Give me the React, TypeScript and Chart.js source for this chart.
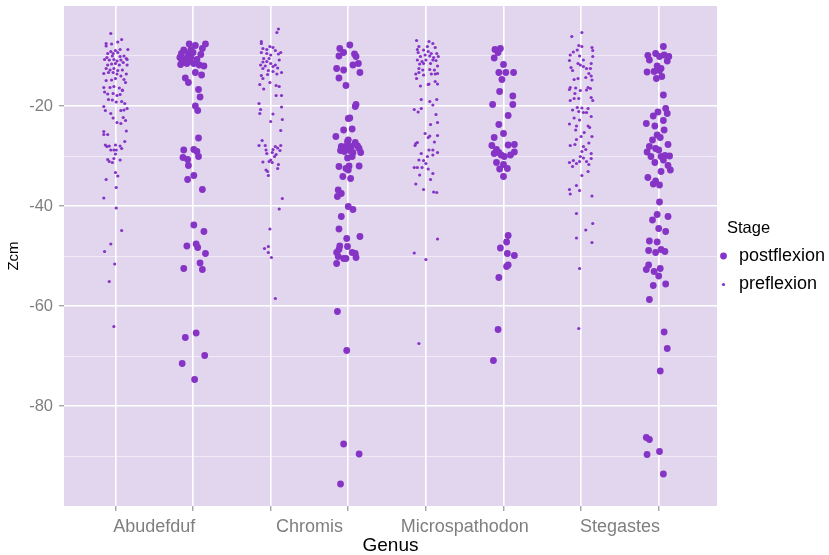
import React, { useEffect, useRef } from 'react';
import { Chart, registerables } from 'chart.js';

Chart.register(...registerables);

// Categories
const genera = ['Abudefduf', 'Chromis', 'Microspathodon', 'Stegastes'];
const stages = ['postflexion', 'preflexion'];
const yTickLabels = [-20, -40, -60, -80];

// Each point: [horizontal jitter (category units), Zcm]
const abudefdufPre: [number, number][] = [
  [-0.06, -5.5], [0.03, -7.2], [0.08, -6.7], [-0.12, -7.5], [-0.05, -7.6], [-0.12, -8.0], [0.16, -8.7], [0.06, -8.7],
  [0.0, -8.9], [-0.06, -9.1], [-0.1, -9.5], [-0.03, -9.5], [0.03, -9.3], [-0.11, -10.3], [-0.04, -10.0], [0.06, -10.1],
  [0.11, -10.0], [0.14, -10.5], [-0.14, -10.7], [-0.08, -10.8], [-0.02, -10.7], [0.02, -11.0], [0.07, -10.8], [0.1, -11.3],
  [0.15, -10.7], [-0.1, -11.8], [-0.05, -11.6], [0.0, -11.5], [0.05, -11.8], [0.15, -11.8], [-0.12, -12.5], [-0.07, -12.8],
  [-0.02, -12.5], [0.03, -12.9], [0.09, -12.8], [-0.15, -13.5], [-0.09, -13.3], [-0.03, -13.3], [0.02, -13.6], [0.07, -14.0],
  [0.14, -13.6], [-0.12, -14.9], [-0.05, -14.8], [0.0, -14.5], [0.11, -14.7], [0.13, -15.3], [-0.15, -16.3], [-0.07, -16.3],
  [-0.02, -16.1], [0.05, -16.4], [0.09, -16.8], [-0.14, -17.2], [-0.1, -17.6], [-0.03, -17.5], [0.02, -17.9], [0.06, -17.7],
  [0.09, -16.9], [-0.09, -18.7], [-0.04, -18.8], [0.01, -19.2], [0.08, -19.1], [0.12, -19.5], [-0.15, -20.1], [-0.13, -20.9],
  [-0.06, -21.5], [0.07, -20.9], [0.11, -20.8], [0.15, -20.5], [-0.03, -22.4], [0.1, -22.3], [0.02, -23.3], [0.07, -23.5],
  [0.13, -22.9], [0.14, -25.0], [-0.15, -25.1], [-0.15, -25.7], [-0.1, -25.7], [0.12, -27.1], [-0.13, -27.8], [-0.11, -28.1],
  [-0.08, -28.0], [0.0, -27.8], [0.06, -28.0], [0.08, -28.5], [-0.06, -28.8], [-0.02, -28.8], [0.01, -28.8], [0.0, -29.6],
  [-0.1, -30.7], [-0.08, -31.1], [-0.04, -31.3], [-0.02, -30.5], [0.06, -30.8], [0.0, -33.3], [0.03, -34.0], [-0.12, -34.7],
  [0.01, -36.3], [-0.15, -38.4], [0.01, -40.4], [0.08, -44.9], [-0.06, -47.6], [-0.14, -49.1], [-0.01, -51.6], [-0.08, -55.1],
  [-0.02, -64.1],
];

const abudefdufPost: [number, number][] = [
  [-0.05, -7.6], [0.03, -7.9], [0.16, -7.6], [0.12, -8.5], [-0.12, -8.8], [-0.03, -8.8], [-0.15, -9.5], [-0.06, -9.5],
  [0.0, -9.3], [0.1, -9.7], [-0.17, -10.3], [-0.09, -10.5], [-0.03, -10.3], [0.05, -10.7], [-0.14, -11.1], [-0.05, -11.1],
  [-0.16, -11.7], [-0.08, -11.5], [0.01, -11.5], [0.08, -11.8], [0.14, -12.0], [-0.1, -14.4], [-0.06, -15.3], [0.03, -13.3],
  [0.11, -13.8], [0.07, -16.7], [0.09, -18.2], [0.03, -20.0], [0.06, -20.9], [0.07, -26.4], [-0.12, -28.8], [0.01, -28.7],
  [0.05, -29.1], [-0.13, -30.3], [-0.07, -30.7], [0.07, -30.1], [-0.06, -31.9], [0.01, -33.9], [-0.07, -34.7], [0.12, -36.7],
  [0.01, -43.8], [0.14, -45.1], [-0.08, -48.0], [0.04, -47.6], [0.06, -48.3], [0.16, -49.5], [0.09, -51.4], [-0.12, -52.5],
  [0.12, -52.7], [0.04, -65.4], [-0.1, -66.3], [0.15, -69.9], [-0.14, -71.5], [0.02, -74.7],
];

const chromisPre: [number, number][] = [
  [0.1, -4.6], [0.08, -5.3], [-0.12, -7.1], [-0.12, -7.5], [-0.01, -8.1], [0.03, -8.3], [-0.1, -8.5], [-0.05, -8.7],
  [0.06, -8.9], [0.13, -9.3], [0.1, -9.6], [-0.12, -9.3], [-0.05, -9.5], [0.0, -9.8], [-0.09, -10.5], [-0.02, -10.5],
  [0.11, -10.8], [-0.1, -11.2], [-0.05, -11.1], [0.0, -11.5], [0.06, -11.8], [-0.13, -11.8], [-0.07, -12.0], [0.03, -12.1],
  [0.09, -12.4], [-0.1, -12.5], [-0.03, -12.9], [0.03, -13.1], [0.08, -13.6], [0.14, -13.3], [-0.12, -13.9], [-0.04, -13.7],
  [-0.1, -14.5], [-0.01, -15.3], [-0.14, -15.7], [0.07, -15.9], [-0.09, -16.6], [0.11, -16.1], [0.07, -17.9], [0.14, -17.9],
  [-0.15, -19.5], [0.14, -20.2], [-0.13, -20.7], [-0.14, -21.5], [0.03, -21.6], [0.0, -23.1], [0.15, -22.7], [0.13, -24.9],
  [-0.11, -26.9], [-0.15, -27.9], [-0.07, -27.9], [0.13, -27.9], [0.06, -28.1], [0.09, -28.4], [-0.06, -28.8], [0.03, -28.7],
  [0.12, -28.9], [-0.05, -29.5], [0.02, -29.3], [0.07, -29.7], [0.05, -30.1], [-0.1, -31.2], [0.0, -30.8], [0.02, -31.3],
  [-0.02, -31.1], [0.1, -31.7], [0.09, -32.5], [-0.06, -32.8], [-0.04, -33.1], [-0.03, -33.9], [0.15, -38.5], [0.11, -40.6],
  [-0.01, -44.6], [-0.08, -48.5], [-0.03, -48.1], [-0.03, -49.3], [0.01, -50.3], [0.06, -58.5],
];

const chromisPost: [number, number][] = [
  [0.02, -7.8], [-0.11, -8.5], [-0.06, -9.3], [-0.12, -10.0], [0.08, -9.6], [0.1, -10.1], [0.13, -11.5], [0.06, -11.8],
  [-0.15, -12.5], [-0.06, -12.8], [0.15, -13.3], [-0.12, -14.4], [-0.03, -15.9], [0.1, -19.7], [0.09, -20.1], [0.0, -22.5],
  [0.02, -22.4], [-0.06, -24.8], [0.05, -24.6], [-0.16, -26.1], [-0.01, -27.1], [0.0, -26.8], [-0.09, -28.1], [-0.03, -28.1],
  [0.04, -28.1], [0.09, -27.3], [0.12, -28.0], [0.14, -28.5], [-0.1, -28.9], [-0.05, -29.1], [0.02, -28.9], [0.06, -29.3],
  [0.16, -29.3], [-0.01, -30.4], [0.05, -30.1], [-0.12, -32.1], [-0.03, -32.5], [0.01, -32.0], [0.14, -32.0], [0.0, -32.8],
  [-0.07, -34.1], [0.03, -34.5], [-0.13, -36.8], [-0.09, -37.5], [-0.14, -38.1], [0.0, -40.1], [0.06, -40.7], [-0.09, -42.1],
  [-0.12, -44.6], [-0.02, -46.5], [0.15, -46.1], [-0.11, -48.0], [-0.12, -48.7], [-0.01, -48.1], [-0.15, -49.3], [-0.13, -50.1],
  [-0.06, -50.5], [0.05, -49.3], [0.09, -49.5], [0.1, -50.3], [-0.03, -50.5], [-0.15, -51.5], [-0.14, -61.1], [-0.02, -68.9],
  [-0.06, -87.6], [0.14, -89.6], [-0.1, -95.6],
];

const microspathodonPre: [number, number][] = [
  [-0.12, -6.9], [0.04, -7.1], [0.09, -7.5], [-0.09, -8.1], [0.02, -8.1], [0.12, -8.3], [-0.11, -8.7], [-0.03, -8.8],
  [0.03, -9.1], [0.07, -9.5], [0.14, -9.5], [-0.1, -9.3], [-0.07, -10.1], [-0.01, -9.8], [0.05, -10.0], [0.1, -10.3],
  [0.16, -10.1], [-0.11, -10.8], [-0.05, -11.1], [0.0, -10.8], [0.09, -10.8], [0.13, -10.9], [-0.08, -11.6], [-0.03, -11.5],
  [0.06, -11.5], [0.15, -12.0], [-0.09, -12.5], [-0.04, -12.8], [0.05, -12.7], [0.11, -12.8], [-0.13, -13.6], [-0.09, -13.3],
  [-0.03, -13.8], [0.07, -13.6], [0.12, -13.6], [0.15, -13.5], [-0.12, -14.5], [0.03, -15.7], [0.04, -15.6], [-0.07, -16.0],
  [0.12, -15.1], [0.15, -15.6], [-0.06, -18.7], [0.05, -19.1], [0.09, -19.8], [0.14, -18.7], [-0.15, -20.7], [-0.1, -21.2],
  [-0.06, -20.5], [0.13, -21.7], [0.06, -23.7], [0.15, -23.3], [-0.01, -25.5], [0.05, -26.0], [0.03, -26.3], [0.15, -25.9],
  [0.11, -27.2], [-0.13, -27.5], [-0.11, -27.3], [-0.14, -27.9], [-0.06, -29.5], [0.04, -28.8], [0.09, -28.8], [0.02, -30.1],
  [0.09, -29.8], [0.15, -29.3], [-0.09, -30.8], [-0.03, -30.9], [0.0, -31.5], [-0.15, -32.3], [-0.11, -32.3], [-0.05, -32.3],
  [0.03, -32.6], [0.09, -33.5], [-0.08, -33.8], [0.06, -34.7], [-0.13, -35.6], [-0.03, -36.7], [0.1, -37.2], [0.14, -37.3],
  [0.15, -46.6], [-0.15, -49.4], [0.0, -50.7], [-0.09, -67.5],
];

const microspathodonPost: [number, number][] = [
  [-0.11, -8.7], [-0.04, -8.5], [-0.07, -9.3], [-0.12, -10.4], [0.0, -11.7], [-0.06, -13.3], [0.03, -13.3], [0.13, -13.3],
  [-0.02, -14.7], [-0.05, -17.1], [0.12, -18.0], [-0.14, -19.7], [0.12, -19.7], [0.06, -21.9], [-0.06, -23.7], [0.0, -25.5],
  [-0.12, -26.3], [-0.15, -27.9], [0.06, -27.8], [0.14, -27.7], [-0.09, -28.7], [-0.12, -29.5], [-0.06, -29.3], [-0.03, -29.8],
  [0.01, -30.1], [0.09, -29.8], [0.14, -29.2], [-0.09, -31.3], [0.0, -31.7], [0.05, -32.5], [-0.05, -32.6], [0.0, -34.1],
  [0.06, -45.9], [0.04, -47.2], [-0.04, -48.4], [0.05, -49.5], [0.14, -49.9], [0.06, -51.8], [0.04, -52.1], [-0.06, -54.3],
  [-0.07, -64.7], [-0.13, -70.9],
];

const stegastesPre: [number, number][] = [
  [0.01, -5.3], [-0.12, -6.1], [-0.03, -7.9], [0.01, -8.1], [0.14, -8.3], [-0.05, -8.8], [0.15, -8.9], [-0.1, -9.2],
  [-0.14, -9.8], [-0.02, -10.0], [0.15, -10.1], [-0.15, -10.9], [0.03, -10.8], [-0.04, -11.5], [-0.01, -11.8], [0.03, -12.1],
  [0.13, -11.5], [-0.13, -12.3], [0.07, -12.5], [0.12, -12.5], [-0.11, -12.9], [0.1, -13.5], [0.13, -14.0], [0.06, -14.3],
  [-0.09, -14.7], [-0.04, -14.5], [0.14, -14.8], [-0.14, -16.3], [-0.07, -16.4], [0.09, -16.3], [0.12, -16.5], [0.07, -16.8],
  [-0.01, -16.9], [-0.15, -16.7], [-0.08, -17.5], [0.13, -18.3], [0.15, -18.9], [-0.14, -18.9], [-0.09, -18.5], [-0.03, -18.5],
  [-0.05, -20.3], [0.01, -20.4], [0.09, -20.5], [-0.11, -20.8], [-0.03, -21.1], [0.03, -21.3], [0.07, -21.3], [0.13, -22.1],
  [-0.09, -22.4], [-0.02, -22.8], [-0.15, -23.6], [-0.06, -24.0], [0.09, -24.0], [0.11, -24.3], [-0.07, -24.8], [0.04, -25.3],
  [0.0, -26.1], [0.14, -26.1], [-0.06, -26.7], [-0.14, -27.9], [-0.08, -27.7], [0.1, -27.4], [0.03, -28.1], [0.06, -28.7],
  [0.13, -29.5], [0.01, -29.1], [-0.01, -30.1], [0.03, -30.4], [0.13, -30.5], [-0.1, -30.9], [-0.06, -31.5], [-0.02, -31.1],
  [-0.15, -31.3], [-0.11, -32.1], [0.07, -31.1], [0.1, -31.7], [0.09, -33.1], [0.01, -33.9], [-0.06, -35.9], [-0.02, -36.9],
  [-0.15, -36.7], [-0.14, -37.6], [0.14, -38.0], [-0.06, -41.5], [0.15, -43.5], [0.06, -44.8], [-0.06, -46.4], [0.14, -47.3],
  [-0.02, -52.5], [-0.03, -64.5],
];

const stegastesPost: [number, number][] = [
  [0.06, -8.1], [-0.14, -9.9], [-0.04, -9.5], [0.01, -10.1], [0.07, -9.8], [0.13, -10.1], [-0.12, -10.8], [0.11, -11.0],
  [-0.02, -12.0], [0.03, -12.5], [-0.15, -13.2], [-0.06, -13.1], [0.01, -12.9], [-0.03, -14.5], [0.04, -14.1], [0.06, -17.8],
  [0.09, -20.5], [-0.01, -21.2], [0.11, -21.5], [-0.07, -22.0], [0.06, -22.9], [-0.16, -23.5], [-0.05, -24.0], [0.07, -24.8],
  [-0.02, -25.8], [-0.08, -26.8], [0.02, -26.3], [-0.12, -28.1], [-0.04, -28.5], [0.12, -27.7], [-0.15, -29.2], [0.0, -28.8],
  [-0.1, -30.1], [-0.05, -31.3], [0.03, -30.1], [0.08, -29.9], [0.14, -30.0], [0.06, -30.8], [0.12, -31.9], [0.15, -32.8],
  [0.03, -33.1], [-0.14, -34.3], [-0.07, -35.6], [-0.04, -35.0], [0.01, -35.8], [0.01, -39.2], [-0.08, -42.8], [-0.02, -41.7],
  [0.12, -42.1], [0.0, -44.5], [0.09, -45.1], [-0.12, -47.0], [-0.02, -47.2], [-0.13, -48.9], [-0.04, -49.3], [0.03, -48.7],
  [0.08, -49.1], [-0.13, -51.8], [-0.16, -52.7], [-0.06, -53.1], [0.02, -52.5], [0.0, -54.0], [-0.07, -55.9], [0.09, -55.6],
  [-0.12, -58.7], [0.07, -65.2], [0.11, -68.5], [0.02, -73.0], [-0.16, -86.3], [-0.12, -86.7], [-0.15, -89.7], [0.01, -89.1],
  [0.06, -93.6],
];

const preGroups = [abudefdufPre, chromisPre, microspathodonPre, stegastesPre];
const postGroups = [abudefdufPost, chromisPost, microspathodonPost, stegastesPost];

const POINT = 'rgb(134, 52, 198)';
const PANEL = 'rgb(226, 214, 238)';
const GREY = '#7f7f7f';
const FONT = '"Liberation Sans", Arial, Helvetica, sans-serif';

function toPoints(groups: [number, number][][], offset: number) {
  const out: { x: number; y: number }[] = [];
  groups.forEach((g, gi) => {
    const pos = gi * 2 + 1 + offset;
    g.forEach(([dx, y]) => out.push({ x: pos + dx, y }));
  });
  return out;
}

const panelPlugin = {
  id: 'panelBg',
  beforeDraw(chart: any) {
    const { ctx, chartArea } = chart;
    ctx.save();
    ctx.fillStyle = PANEL;
    ctx.fillRect(chartArea.left, chartArea.top, chartArea.right - chartArea.left, chartArea.bottom - chartArea.top);
    ctx.restore();
  },
};

const legendPlugin = {
  id: 'stageLegend',
  afterDraw(chart: any) {
    const { ctx } = chart;
    ctx.save();
    ctx.textBaseline = 'middle';
    ctx.textAlign = 'left';
    ctx.fillStyle = '#000';
    ctx.font = `16.5px ${FONT}`;
    ctx.fillText('Stage', 727, 228);
    ctx.font = `18px ${FONT}`;
    ctx.fillText(stages[0], 739, 256);
    ctx.fillText(stages[1], 739, 284);
    ctx.fillStyle = POINT;
    ctx.beginPath();
    ctx.arc(723.5, 256, 3.4, 0, Math.PI * 2);
    ctx.fill();
    ctx.beginPath();
    ctx.arc(723.5, 284.5, 1.6, 0, Math.PI * 2);
    ctx.fill();
    ctx.restore();
  },
};

export default function App() {
  const ref = useRef<HTMLCanvasElement | null>(null);

  useEffect(() => {
    if (!ref.current) return;
    const chart = new Chart(ref.current, {
      type: 'scatter',
      data: {
        datasets: [
          {
            label: stages[1],
            data: toPoints(preGroups, 0),
            backgroundColor: POINT,
            borderWidth: 0,
            pointRadius: 1.6,
            pointHoverRadius: 1.6,
          },
          {
            label: stages[0],
            data: toPoints(postGroups, 1),
            backgroundColor: POINT,
            borderWidth: 0,
            pointRadius: 3.4,
            pointHoverRadius: 3.4,
          },
        ],
      },
      options: {
        responsive: false,
        animation: false,
        events: [],
        layout: { padding: { left: 0, top: 6, right: 112, bottom: 0 } },
        plugins: {
          legend: { display: false },
          tooltip: { enabled: false },
        },
        scales: {
          x: {
            type: 'linear',
            min: 0.337,
            max: 8.751,
            afterBuildTicks: (scale: any) => {
              const t: { value: number }[] = [];
              for (let v = 1; v <= 8; v += 0.5) t.push({ value: v });
              scale.ticks = t;
            },
            afterFit: (scale: any) => {
              scale.height = 49;
              scale.paddingLeft = 0;
              scale.paddingRight = 0;
            },
            border: { display: false },
            grid: {
              color: (c: any) => (c.tick && Number.isInteger(c.tick.value) ? '#ffffff' : 'rgba(0,0,0,0)'),
              lineWidth: 1.6,
              tickColor: (c: any) => (c.tick && Number.isInteger(c.tick.value) ? GREY : 'rgba(0,0,0,0)'),
              tickLength: 5,
              tickWidth: 1,
            },
            ticks: {
              autoSkip: false,
              maxRotation: 0,
              minRotation: 0,
              padding: 5,
              color: GREY,
              font: { family: FONT, size: 18 },
              callback: (v: any) => {
                const n = Number(v);
                if (Number.isInteger(n)) return '';
                const idx = Math.round((n - 1.5) / 2);
                return Math.abs(idx * 2 + 1.5 - n) < 1e-6 ? genera[idx] : '';
              },
            },
            title: {
              display: true,
              text: 'Genus',
              color: '#000',
              font: { family: FONT, size: 19, lineHeight: 1 },
              padding: { top: 0, bottom: 0 },
            },
          },
          y: {
            type: 'linear',
            min: -100,
            max: 0,
            afterFit: (scale: any) => {
              scale.width = 64;
              scale.paddingTop = 0;
              scale.paddingBottom = 0;
            },
            border: { display: false },
            grid: {
              color: (c: any) => {
                const v = c.tick ? c.tick.value : 0;
                if (v === 0 || v === -100) return 'rgba(0,0,0,0)';
                return v % 20 === 0 ? '#ffffff' : 'rgba(255,255,255,0.5)';
              },
              lineWidth: (c: any) => (c.tick && c.tick.value % 20 === 0 ? 1.6 : 1),
              tickColor: (c: any) => (c.tick && yTickLabels.includes(c.tick.value) ? GREY : 'rgba(0,0,0,0)'),
              tickLength: 5,
              tickWidth: 1,
            },
            ticks: {
              stepSize: 10,
              autoSkip: false,
              padding: 6,
              color: GREY,
              font: { family: FONT, size: 16.5 },
              callback: (v: any) => (yTickLabels.includes(Number(v)) ? String(v) : ''),
            },
            title: {
              display: true,
              text: 'Zcm',
              color: '#000',
              font: { family: FONT, size: 15 },
              padding: { top: 5, bottom: 0 },
            },
          },
        },
      },
      plugins: [panelPlugin, legendPlugin],
    } as any);
    return () => chart.destroy();
  }, []);

  return (
    <div style={{ position: 'absolute', left: 0, top: 0, width: 829, height: 555, background: '#fff' }}>
      <canvas ref={ref} width={829} height={555} style={{ display: 'block', width: 829, height: 555 }} />
    </div>
  );
}
